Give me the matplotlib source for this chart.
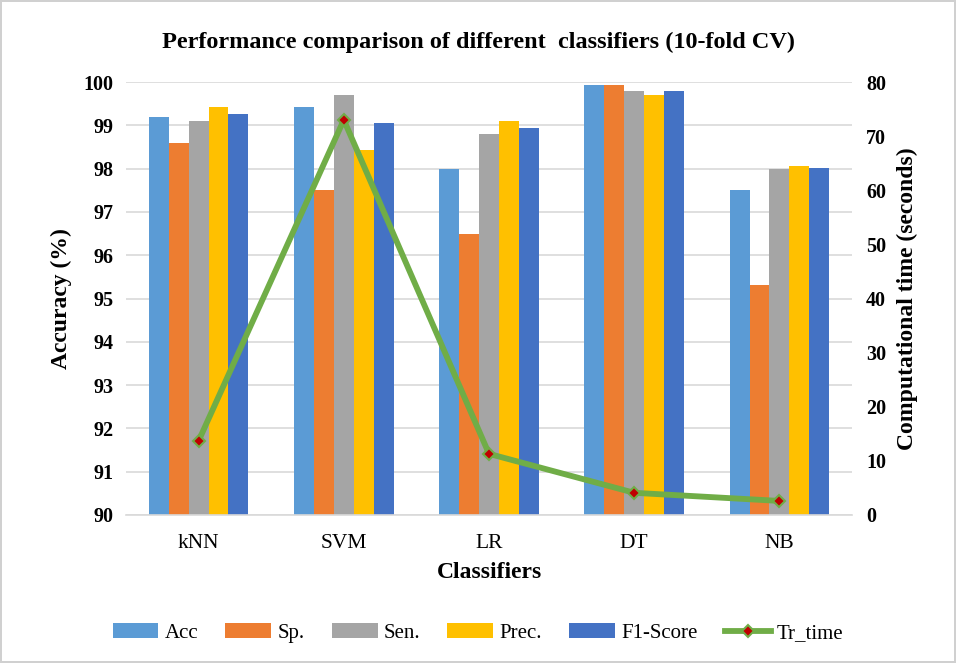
import matplotlib
matplotlib.use("Agg")
import matplotlib.pyplot as plt
import numpy as np

classifiers = ["kNN", "SVM", "LR", "DT", "NB"]
acc = [99.2, 99.42, 98.0, 99.92, 97.5]
sp = [98.6, 97.5, 96.5, 99.92, 95.31]
sen = [99.1, 99.7, 98.8, 99.8, 98.0]
prec = [99.42, 98.42, 99.1, 99.7, 98.05]
f1 = [99.26, 99.05, 98.94, 99.8, 98.02]
tr_time = [13.7, 73.0, 11.3, 4.1, 2.6]

series_names = ["Acc", "Sp.", "Sen.", "Prec.", "F1-Score"]
series = [acc, sp, sen, prec, f1]
colors = ["#5B9BD5", "#ED7D31", "#A5A5A5", "#FFC000", "#4472C4"]

plt.rcParams['font.family'] = ['Liberation Serif', 'DejaVu Serif']

fig = plt.figure(figsize=(9.56, 6.63), dpi=100)
fig.patch.set_edgecolor("#D0D0D0")
fig.patch.set_linewidth(1.5)
ax = fig.add_axes([126/956, 1 - 515/663, (852-126)/956, (515-82)/663])

x = np.arange(len(classifiers))
bw = 0.137
for i, (name, vals, c) in enumerate(zip(series_names, series, colors)):
    ax.bar(x + (i - 2) * bw, vals, width=bw, color=c, label=name, zorder=2)

ax.set_ylim(90, 100)
ax.set_xlim(-0.5, len(classifiers) - 0.5)
ax.set_yticks(np.arange(90, 101, 1))
ax.set_xticks(x)
ax.set_xticklabels(classifiers, fontsize=15.5)
for t in ax.get_yticklabels():
    t.set_fontweight("bold")
    t.set_fontsize(14.5)
ax.yaxis.grid(True, color="#D9D9D9", linewidth=1.2, zorder=0)
ax.set_axisbelow(True)
for s in ["top", "right", "left"]:
    ax.spines[s].set_visible(False)
ax.spines["bottom"].set_color("#D9D9D9")
ax.spines["bottom"].set_linewidth(1.2)
ax.tick_params(axis="y", length=0, pad=9)
ax.tick_params(axis="x", length=0, pad=14)
ax.set_ylabel("Accuracy (%)", fontsize=17, fontweight="bold", labelpad=8)
ax.set_xlabel("Classifiers", fontsize=17, fontweight="bold", labelpad=6)

ax2 = ax.twinx()
ax2.plot(x, tr_time, color="#70AD47", linewidth=4.2, marker="D", markersize=6,
         markerfacecolor="#C00000", markeredgecolor="#70AD47", markeredgewidth=1.5,
         label="Tr_time", zorder=3)
ax2.set_ylim(0, 80)
ax2.set_yticks(np.arange(0, 81, 10))
for t in ax2.get_yticklabels():
    t.set_fontweight("bold")
    t.set_fontsize(14.5)
for s in ["top", "right", "left", "bottom"]:
    ax2.spines[s].set_visible(False)
ax2.tick_params(axis="both", length=0, pad=10)
ax2.set_ylabel("Computational time (seconds)", fontsize=17, fontweight="bold", labelpad=8)

fig.text(0.5, 1 - 42/663, "Performance comparison of different  classifiers (10-fold CV)",
         ha="center", va="center", fontsize=17.5, fontweight="bold")

h1, l1 = ax.get_legend_handles_labels()
h2, l2 = ax2.get_legend_handles_labels()
fig.legend(h1 + h2, l1 + l2, loc="center", bbox_to_anchor=(0.5, 1 - 633/663),
           ncol=6, frameon=False, fontsize=15, handlelength=2.2, columnspacing=1.3,
           handletextpad=0.3)

fig.savefig("out.png", dpi=100, edgecolor=fig.get_edgecolor())
